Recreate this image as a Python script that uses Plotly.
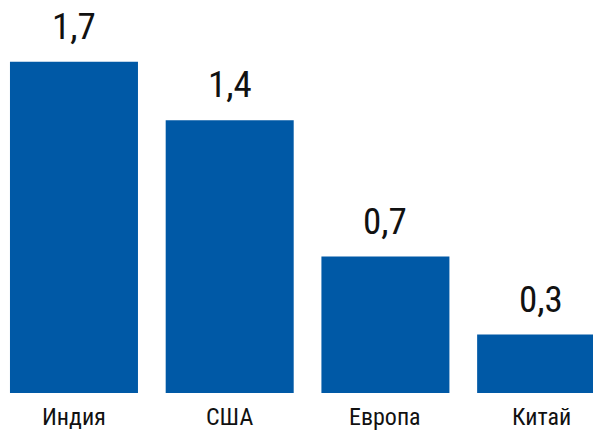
import plotly.graph_objects as go

# Data
categories = ["Индия", "США", "Европа", "Китай"]
values = [1.7, 1.4, 0.7, 0.3]

BAR_COLOR = "#0059A6"
FONT = "Liberation Sans Narrow, Roboto Condensed, Arial Narrow, Roboto, sans-serif"

x = list(range(len(categories)))

fig = go.Figure(
    go.Bar(
        x=x,
        y=values,
        width=0.822,
        marker=dict(color=BAR_COLOR, line=dict(width=0)),
        hoverinfo="skip",
    )
)

annotations = []
for xi, v in zip(x, values):
    annotations.append(
        dict(
            x=xi, y=v, xref="x", yref="y",
            text=f"{v:.1f}".replace(".", ","),
            showarrow=False, yanchor="bottom", yshift=12,
            font=dict(family=FONT, size=37, color="#111111"),
        )
    )
for xi, c in zip(x, categories):
    annotations.append(
        dict(
            x=xi, y=0, xref="x", yref="paper",
            text=c, showarrow=False, yanchor="top", yshift=-9,
            borderpad=0,
            font=dict(family=FONT, size=24, color="#111111"),
        )
    )

fig.update_layout(
    width=593,
    height=432,
    margin=dict(l=0, r=0, t=0, b=39),
    paper_bgcolor="white",
    plot_bgcolor="white",
    showlegend=False,
    annotations=annotations,
    xaxis=dict(range=[-0.475, 3.333], showticklabels=False, showgrid=False,
               zeroline=False, showline=False, ticks=""),
    yaxis=dict(range=[0, 2.017], showticklabels=False, showgrid=False,
               zeroline=False, showline=False, ticks=""),
)

fig.write_html("out.html")
